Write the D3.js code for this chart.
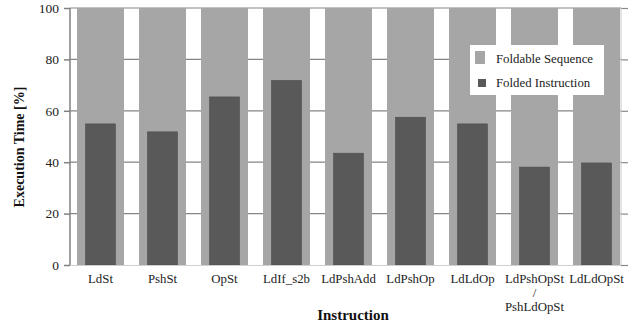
<!DOCTYPE html>
<html>
<head>
<meta charset="utf-8">
<script src="https://cdn.jsdelivr.net/npm/d3@7"></script>
<style>
  body { margin: 0; background: #fff; }
  text { font-family: "Liberation Serif", "DejaVu Serif", serif; }
</style>
</head>
<body>
<svg id="chart" width="643" height="326"></svg>
<script>
// data
var categories = ["LdSt", "PshSt", "OpSt", "LdIf_s2b", "LdPshAdd", "LdPshOp", "LdLdOp", "LdPshOpSt", "LdLdOpSt"];
var foldable = [100, 100, 100, 100, 100, 100, 100, 100, 100];
var folded = [54.9, 51.8, 65.4, 71.8, 43.5, 57.5, 54.9, 38.1, 39.7];
var yTicks = [0, 20, 40, 60, 80, 100];
var legendLabels = ["Foldable Sequence", "Folded Instruction"];

var svg = d3.select("#chart");
var pLeft = 70, pRight = 621, pTop = 8, pBottom = 265;

var x = d3.scaleBand()
    .domain(categories)
    .range([69.5, 69.5 + 9 * 62])
    .paddingInner(15 / 62)
    .paddingOuter(15 / 124);

var y = d3.scaleLinear()
    .domain([0, 100])
    .range([pBottom, pTop]);

// grid
svg.append("g")
  .selectAll("line")
  .data(yTicks.slice(1))
  .enter().append("line")
    .attr("x1", pLeft).attr("x2", pRight)
    .attr("y1", function (d) { return y(d); })
    .attr("y2", function (d) { return y(d); })
    .style("stroke", "#858585")
    .style("stroke-width", 1.2);

// bars
var g = svg.append("g");
g.selectAll(".bg").data(foldable).enter().append("rect")
    .attr("x", function (d, i) { return x(categories[i]); })
    .attr("width", x.bandwidth())
    .attr("y", function (d) { return y(d); })
    .attr("height", function (d) { return y(0) - y(d); })
    .style("fill", "#a6a6a6");

var inner = 30;
g.selectAll(".fg").data(folded).enter().append("rect")
    .attr("x", function (d, i) { return x(categories[i]) + (x.bandwidth() - inner) / 2; })
    .attr("width", inner)
    .attr("y", function (d) { return y(d); })
    .attr("height", function (d) { return y(0) - y(d); })
    .style("fill", "#595959")
    .style("stroke", "#4d4d4d")
    .style("stroke-width", 0.6);

// bottom line
svg.append("line")
    .attr("x1", pLeft).attr("x2", pRight)
    .attr("y1", pBottom + 0.5).attr("y2", pBottom + 0.5)
    .style("stroke", "#d0d0d0");

// left axis
var yAxis = d3.axisLeft(y).tickValues(yTicks).tickSize(6).tickPadding(5);
var gY = svg.append("g")
    .attr("transform", "translate(" + pLeft + ",0)")
    .call(yAxis);
gY.select(".domain").remove();
gY.append("line").attr("x1", 0).attr("x2", 0).attr("y1", pTop).attr("y2", pBottom)
    .style("stroke", "#808080").style("stroke-width", 1.5);
gY.selectAll(".tick line").style("stroke", "#808080").style("stroke-width", 1.5);
gY.selectAll(".tick text")
    .style("font-family", "Liberation Serif, serif")
    .style("font-size", "13.5px")
    .style("fill", "#222");

// right axis
var yAxisR = d3.axisRight(y).tickValues(yTicks).tickSize(7).tickFormat("");
var gR = svg.append("g")
    .attr("transform", "translate(" + pRight + ",0)")
    .call(yAxisR);
gR.select(".domain").remove();
gR.append("line").attr("x1", 0).attr("x2", 0).attr("y1", pTop).attr("y2", pBottom)
    .style("stroke", "#c8c8c8").style("stroke-width", 1);
gR.selectAll(".tick line").style("stroke", "#8a8a8a").style("stroke-width", 1.2);

// category labels
var xl = svg.append("g");
categories.forEach(function (c) {
  xl.append("text")
    .attr("x", x(c) + x.bandwidth() / 2)
    .attr("y", 283)
    .style("text-anchor", "middle")
    .style("font-size", "12.8px")
    .style("fill", "#222")
    .text(c);
});
var cx = x("LdPshOpSt") + x.bandwidth() / 2;
xl.append("text").attr("x", cx).attr("y", 297)
    .style("text-anchor", "middle").style("font-size", "12.8px").style("fill", "#222").text("/");
xl.append("text").attr("x", cx).attr("y", 311)
    .style("text-anchor", "middle").style("font-size", "12.8px").style("fill", "#222").text("PshLdOpSt");

// axis titles
svg.append("text")
    .attr("x", 353)
    .attr("y", 320)
    .style("text-anchor", "middle")
    .style("font-size", "15px")
    .style("font-weight", "bold")
    .style("fill", "#111")
    .text("Instruction");

svg.append("text")
    .attr("transform", "rotate(-90)")
    .attr("x", -147)
    .attr("y", 24)
    .style("text-anchor", "middle")
    .style("font-size", "14px")
    .style("font-weight", "bold")
    .style("fill", "#111")
    .text("Execution Time [%]");

// legend
var lg = svg.append("g");
lg.append("rect").attr("x", 470).attr("y", 45).attr("width", 134).attr("height", 50)
    .style("fill", "#fff");
lg.append("rect").attr("x", 475).attr("y", 51).attr("width", 10).attr("height", 13)
    .style("fill", "#a6a6a6");
lg.append("rect").attr("x", 478).attr("y", 79).attr("width", 8).attr("height", 8)
    .style("fill", "#595959");
lg.selectAll(".lt").data(legendLabels).enter().append("text")
    .attr("x", 496)
    .attr("y", function (d, i) { return 63 + i * 24; })
    .style("font-size", "12.8px")
    .style("fill", "#222")
    .text(function (d) { return d; });
</script>
</body>
</html>
